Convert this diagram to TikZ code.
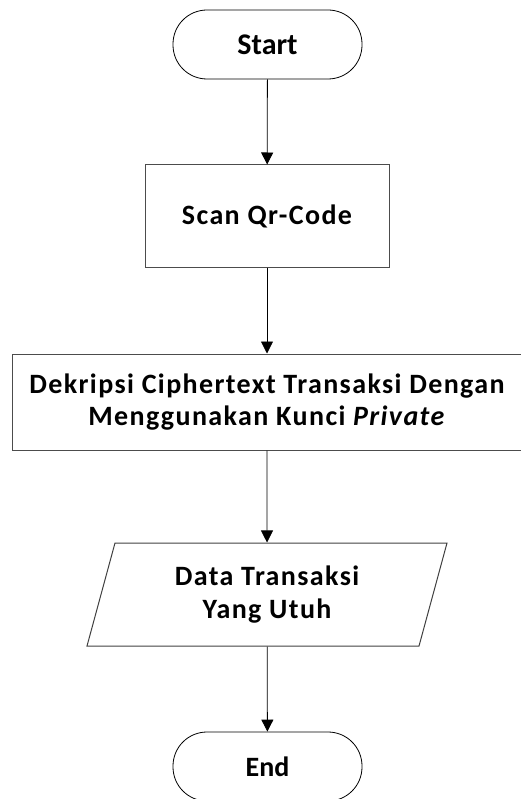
\documentclass[tikz,border=0pt]{standalone}
\usepackage{fontspec}
\setmainfont{Carlito}
\newfontfamily\trackmid{Carlito}[LetterSpace=5]
\usetikzlibrary{arrows.meta, positioning, shapes.geometric}

\begin{document}
\begin{tikzpicture}[x=1pt, y=-1pt, font=\bfseries,
          term/.style={draw, rounded corners=34pt, line width=0.8pt,
                       minimum width=189pt, minimum height=69pt, inner sep=0pt},
          proc/.style={draw=black!70, line width=1pt, align=center, inner sep=0pt},
          dat/.style={draw=black!75, line width=1pt, align=center, inner sep=0pt,
                      trapezium, trapezium left angle=64, trapezium right angle=116,
                      trapezium stretches body, minimum width=360pt, minimum height=103pt},
          arr/.style={-{Triangle[length=12pt, width=12pt]}, line width=0.8pt}]
          \useasboundingbox (0, 0) rectangle (520, 799);
          \node[term, font=\fontsize{30}{36}\selectfont\bfseries] (start)
            at (267.5, 44.5) {Start};
          \node[proc, minimum width=244pt, minimum height=102pt,
                font=\fontsize{28}{34}\selectfont\trackmid\bfseries] (scan)
            at (267, 216) {Scan Qr-Code};
          \node[proc, minimum width=510pt, minimum height=96pt,
                font=\fontsize{28}{32}\selectfont\trackmid\bfseries] (dekrip)
            at (267, 402) {Dekripsi Ciphertext Transaksi Dengan\\
                           Menggunakan Kunci \textit{Private}};
          \node[dat, font=\fontsize{28}{33}\selectfont\trackmid\bfseries] (data)
            at (267, 594.5) {Data Transaksi\\ Yang Utuh};
          \node[term, font=\fontsize{28}{34}\selectfont\bfseries] (end)
            at (267.5, 766.5) {End};
          \draw[arr] (start) -- (scan);
          \draw[arr] (scan) -- (dekrip);
          \draw[arr] (dekrip) -- (data);
          \draw[arr] (data) -- (end);
        \end{tikzpicture}
\end{document}
